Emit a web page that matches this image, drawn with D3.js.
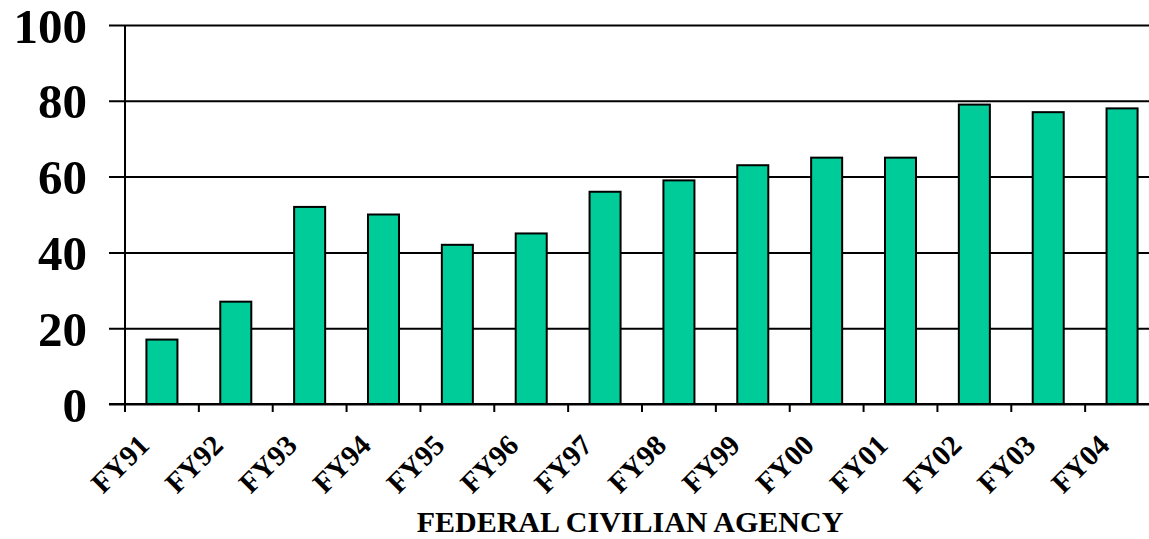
<!DOCTYPE html>
<html>
<head>
<meta charset="utf-8">
<script src="https://cdn.jsdelivr.net/npm/d3@7"></script>
<style>
  body { margin: 0; background: #fff; }
  svg { display: block; }
</style>
</head>
<body>
<svg></svg>
<script>
// data

const years = ['FY91', 'FY92', 'FY93', 'FY94', 'FY95', 'FY96', 'FY97',
               'FY98', 'FY99', 'FY00', 'FY01', 'FY02', 'FY03', 'FY04'];
const values = [17, 27, 52, 50, 42, 45, 56, 59, 63, 65, 65, 79, 77, 78];
const yTicks = [0, 20, 40, 60, 80, 100];
const xTitle = 'FEDERAL CIVILIAN AGENCY';

const width = 1149, height = 539;
const plot = { left: 125, right: 1159, top: 25, bottom: 404 };

const svg = d3.select('svg')
  .attr('width', width)
  .attr('height', height);

const font = "'Liberation Serif', 'Times New Roman', serif";

// scales

const x = d3.scaleBand()
  .domain(years)
  .range([plot.left, plot.right])
  .paddingInner(0.58)
  .paddingOuter(0.29);

const y = d3.scaleLinear()
  .domain([0, 100])
  .range([plot.bottom, plot.top]);

// gridlines + y labels

const yAxis = d3.axisLeft(y)
  .tickValues(yTicks)
  .tickSize(-(plot.right - plot.left))
  .tickPadding(0)
  .tickFormat(d => d);

const yAxisG = svg.append('g')
  .attr('transform', `translate(${plot.left},0)`)
  .call(yAxis);

yAxisG.select('.domain').remove();

yAxisG.selectAll('.tick line')
  .attr('x1', -16)
  .attr('stroke', '#000')
  .attr('stroke-width', 2);

yAxisG.selectAll('.tick text')
  .attr('x', -38)
  .attr('dy', '0.35em')
  .style('font-family', font)
  .style('font-size', '49px')
  .style('font-weight', 'bold')
  .style('fill', '#000');

// bars

svg.append('g')
  .selectAll('rect')
  .data(values)
  .enter()
    .append('rect')
    .attr('x', (d, i) => x(years[i]))
    .attr('y', d => y(d))
    .attr('width', x.bandwidth())
    .attr('height', d => y(0) - y(d))
    .style('fill', '#00CC99')
    .style('stroke', '#000')
    .style('stroke-width', 2);

// y axis line

svg.append('line')
  .attr('x1', plot.left).attr('x2', plot.left)
  .attr('y1', plot.top).attr('y2', plot.bottom)
  .attr('stroke', '#000')
  .attr('stroke-width', 2);

// x axis (category boundary ticks)

const step = x.step();

svg.append('g')
  .selectAll('line')
  .data(years)
  .enter()
    .append('line')
    .attr('x1', (d, i) => plot.left + i * step)
    .attr('x2', (d, i) => plot.left + i * step)
    .attr('y1', plot.bottom)
    .attr('y2', plot.bottom + 8)
    .attr('stroke', '#000')
    .attr('stroke-width', 2);

svg.append('line')
  .attr('x1', plot.left - 16).attr('x2', plot.right)
  .attr('y1', plot.bottom).attr('y2', plot.bottom)
  .attr('stroke', '#000')
  .attr('stroke-width', 2);

// x labels

svg.append('g')
  .selectAll('text')
  .data(years)
  .enter()
    .append('text')
    .attr('transform', d => `translate(${x(d) + x.bandwidth() / 2 - 11},447) rotate(-45)`)
    .attr('text-anchor', 'end')
    .style('font-family', font)
    .style('font-size', '29px')
    .style('font-weight', 'bold')
    .style('fill', '#000')
    .text(d => d);

// x title

svg.append('text')
  .attr('x', 630)
  .attr('y', 532)
  .attr('text-anchor', 'middle')
  .style('font-family', font)
  .style('font-size', '30px')
  .style('font-weight', 'bold')
  .style('fill', '#000')
  .text(xTitle);
</script>
</body>
</html>
